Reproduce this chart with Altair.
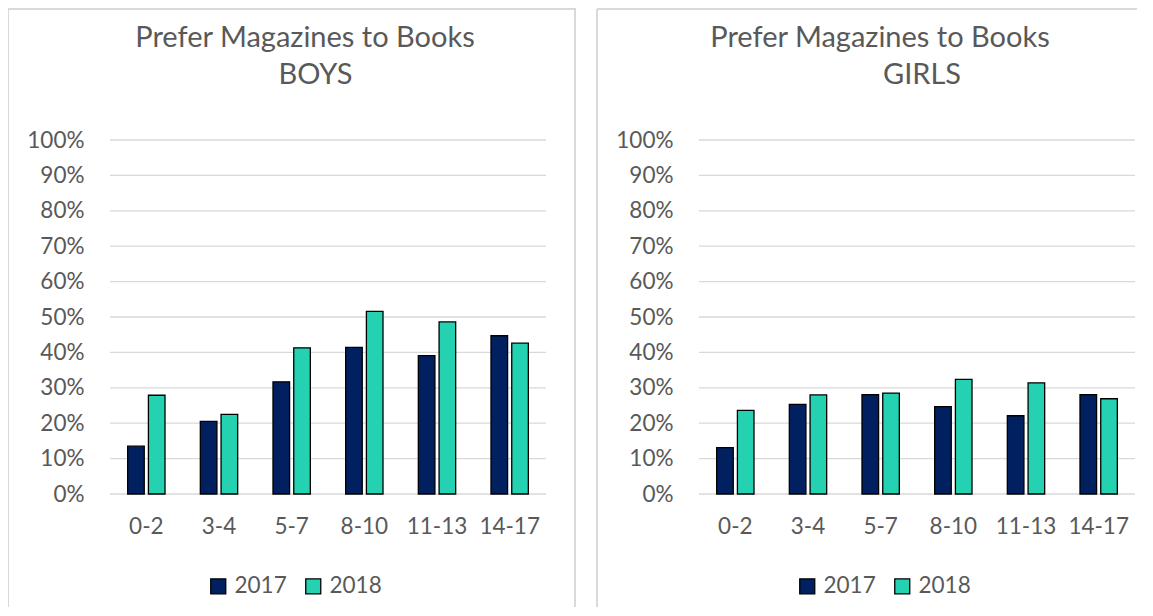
import altair as alt
import pandas as pd

# ---- data ----
ages = ["0-2", "3-4", "5-7", "8-10", "11-13", "14-17"]
years = ["2017", "2018"]
boys_2017 = [0.135, 0.205, 0.317, 0.414, 0.391, 0.447]
boys_2018 = [0.279, 0.225, 0.413, 0.516, 0.486, 0.426]
girls_2017 = [0.131, 0.253, 0.281, 0.247, 0.221, 0.281]
girls_2018 = [0.236, 0.280, 0.285, 0.324, 0.314, 0.269]
y_ticks = [0.0, 0.1, 0.2, 0.3, 0.4, 0.5, 0.6, 0.7, 0.8, 0.9, 1.0]
bar_colors = ["#002060", "#24D1B0"]

FONT = "Lato"
TEXT = "#595959"
GRID = "#d9d9d9"
H = 598
X_RANGE = [102, 538]
Y_RANGE = [485, 131]
LABEL_SIZE = 22.5
PAD = "\u2800"  # blank pattern, used to push the second title line right


def panel(v2017, v2018, title_lines, title_dx, width, right_border):
    df = pd.DataFrame({
        "age": ages * 2,
        "year": [years[0]] * len(ages) + [years[1]] * len(ages),
        "value": v2017 + v2018,
    })
    grid_df = pd.DataFrame({"value": y_ticks})
    one = pd.DataFrame({"k": [0]})

    y_enc = alt.Y(
        "value:Q",
        scale=alt.Scale(domain=[0, 1], range=Y_RANGE),
        axis=alt.Axis(
            title=None, format=".0%", values=y_ticks, grid=False, domain=False,
            ticks=False, tickSize=0, offset=-X_RANGE[0], labelPadding=26,
            labelFont=FONT, labelFontSize=LABEL_SIZE, labelColor=TEXT,
        ),
    )

    grid = alt.Chart(grid_df).mark_rule(color=GRID, strokeWidth=1.3).encode(
        y=y_enc,
        x=alt.value(X_RANGE[0]),
        x2=alt.value(X_RANGE[1]),
    )

    bars = alt.Chart(df).mark_bar(stroke="black", strokeWidth=1.3).encode(
        x=alt.X(
            "age:N", sort=ages,
            scale=alt.Scale(range=X_RANGE, paddingInner=0.486, paddingOuter=0.243),
            axis=alt.Axis(
                title=None, orient="bottom", offset=-(H - Y_RANGE[0]), labelPadding=21,
                domain=False, ticks=False, tickSize=0, labelAngle=0,
                labelFont=FONT, labelFontSize=LABEL_SIZE, labelColor=TEXT,
            ),
        ),
        xOffset=alt.XOffset("year:N", scale=alt.Scale(paddingInner=0.2)),
        y=y_enc,
        color=alt.Color(
            "year:N",
            scale=alt.Scale(domain=years, range=bar_colors),
            legend=alt.Legend(
                orient="none", legendX=199, legendY=566, direction="horizontal",
                title=None, symbolType="square", symbolSize=225,
                symbolStrokeColor="black", symbolStrokeWidth=1.3,
                labelFont=FONT, labelFontSize=LABEL_SIZE, labelColor=TEXT,
                labelOffset=5, columnPadding=15,
            ),
        ),
    )

    # panel frame (top, left, and optionally right edge)
    frame_top = alt.Chart(one).mark_rule(color=GRID, strokeWidth=2).encode(
        x=alt.value(0), x2=alt.value(width), y=alt.value(0))
    frame_left = alt.Chart(one).mark_rule(color=GRID, strokeWidth=2).encode(
        x=alt.value(0), y=alt.value(0), y2=alt.value(H))
    layers = [frame_top, frame_left]
    if right_border:
        layers.append(alt.Chart(one).mark_rule(color=GRID, strokeWidth=2).encode(
            x=alt.value(width - 1), y=alt.value(0), y2=alt.value(H)))

    return alt.layer(*layers, grid, bars).properties(
        width=width, height=H,
        title=alt.TitleParams(
            text=title_lines, font=FONT, fontSize=29, fontWeight="normal",
            color=TEXT, anchor="middle", frame="group", offset=-82,
            dx=title_dx, lineHeight=37,
        ),
    )


left = panel(boys_2017, boys_2018,
             ["Prefer Magazines to Books", PAD + "BOYS"], 13, 568, True)
right = panel(girls_2017, girls_2018,
              ["Prefer Magazines to Books", PAD * 4 + "GIRLS"], 13, 540, False)

chart = alt.hconcat(left, right, spacing=19).resolve_legend(
    color="independent"
).configure_view(stroke=None).properties(
    padding={"left": -1, "top": 0, "right": 0, "bottom": 0},
    background="white",
)

chart.save("out.html", embed_options={"renderer": "svg", "actions": False})
